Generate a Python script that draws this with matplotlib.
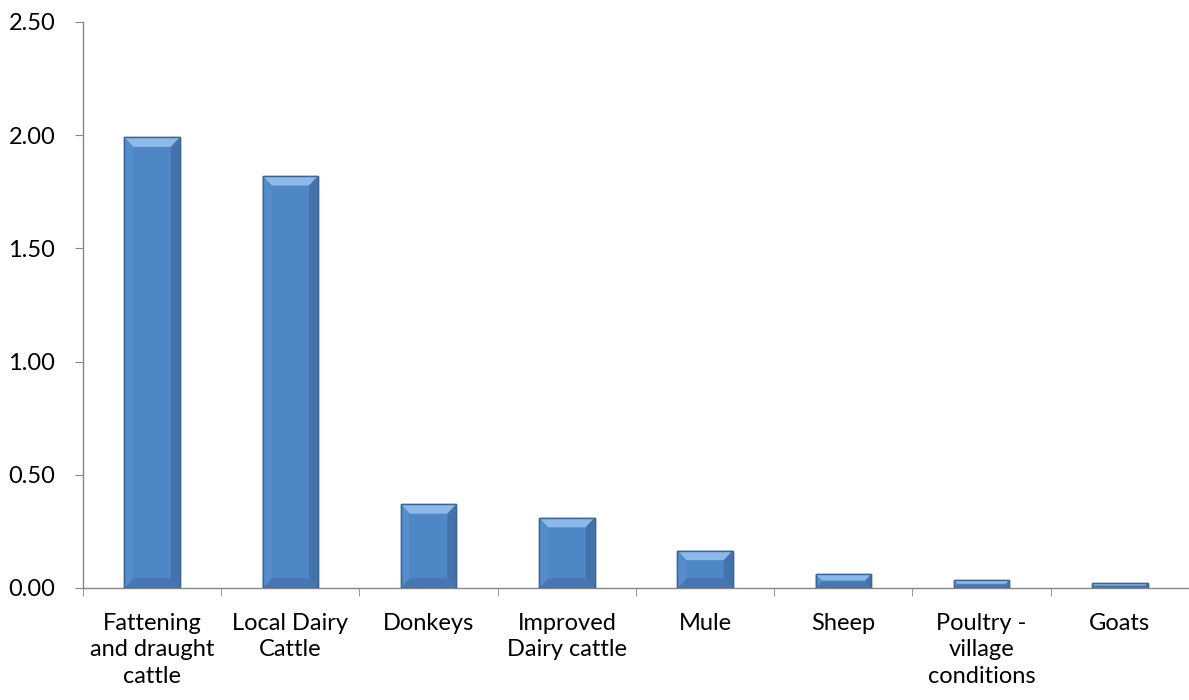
import matplotlib.pyplot as plt
import numpy as np
from matplotlib.patches import Polygon

# data
categories = ["Fattening\nand draught\ncattle", "Local Dairy\nCattle", "Donkeys",
              "Improved\nDairy cattle", "Mule", "Sheep", "Poultry -\nvillage\nconditions", "Goats"]
values = [1.99, 1.82, 0.37, 0.31, 0.165, 0.06, 0.034, 0.021]
y_ticks = [0.0, 0.5, 1.0, 1.5, 2.0, 2.5]

plt.rcParams['font.family'] = ['Lato', 'DejaVu Sans']

fig = plt.figure(figsize=(11.89, 7.0), dpi=100)
ax = fig.add_axes([0.0698, 0.16, 0.9302, 0.8086])

x = np.arange(len(categories))
width = 0.4
bars = ax.bar(x, values, width=width, color='#4F86C6', edgecolor='#3A6494',
              linewidth=1.0, zorder=2)

# bevel faces on each bar (top light, right dark, bottom darker)
for b in bars:
    x0, w, h = b.get_x(), b.get_width(), b.get_height()
    bv = min(0.042, h * 0.45)
    bx = w * 0.16 * (bv / 0.042)
    x1 = x0 + w
    faces = [
        ([(x0, h), (x1, h), (x1 - bx, h - bv), (x0 + bx, h - bv)], '#8DB8EA'),
        ([(x1, h), (x1, 0), (x1 - bx, bv), (x1 - bx, h - bv)], '#4572AB'),
        ([(x0, 0), (x1, 0), (x1 - bx, bv), (x0 + bx, bv)], '#4876B0'),
        ([(x0, h), (x0, 0), (x0 + bx, bv), (x0 + bx, h - bv)], '#558CCB'),
    ]
    for pts, c in faces:
        ax.add_patch(Polygon(pts, closed=True, facecolor=c, edgecolor='none', zorder=3))
    ax.add_patch(Polygon([(x0, 0), (x0, h), (x1, h), (x1, 0)], closed=True,
                         facecolor='none', edgecolor='#3A6494', linewidth=1.0, zorder=4))

ax.set_xlim(-0.5, len(categories) - 0.5)
ax.set_ylim(0, 2.5)
ax.set_yticks(y_ticks)
ax.set_yticklabels([f"{v:.2f}" for v in y_ticks], fontsize=17)

ax.set_xticks(x)
ax.set_xticklabels(categories, fontsize=17, linespacing=1.32)
ax.tick_params(axis='x', length=0, pad=18)
ax.set_xticks(np.arange(-0.5, len(categories), 1.0), minor=True)
ax.tick_params(axis='x', which='minor', length=6, color='#868686', direction='out')
ax.tick_params(axis='y', length=6, color='#868686', direction='out', pad=14)

for s in ['top', 'right']:
    ax.spines[s].set_visible(False)
for s in ['left', 'bottom']:
    ax.spines[s].set_color('#868686')
    ax.spines[s].set_linewidth(1.0)

fig.savefig("out.png", dpi=100)
